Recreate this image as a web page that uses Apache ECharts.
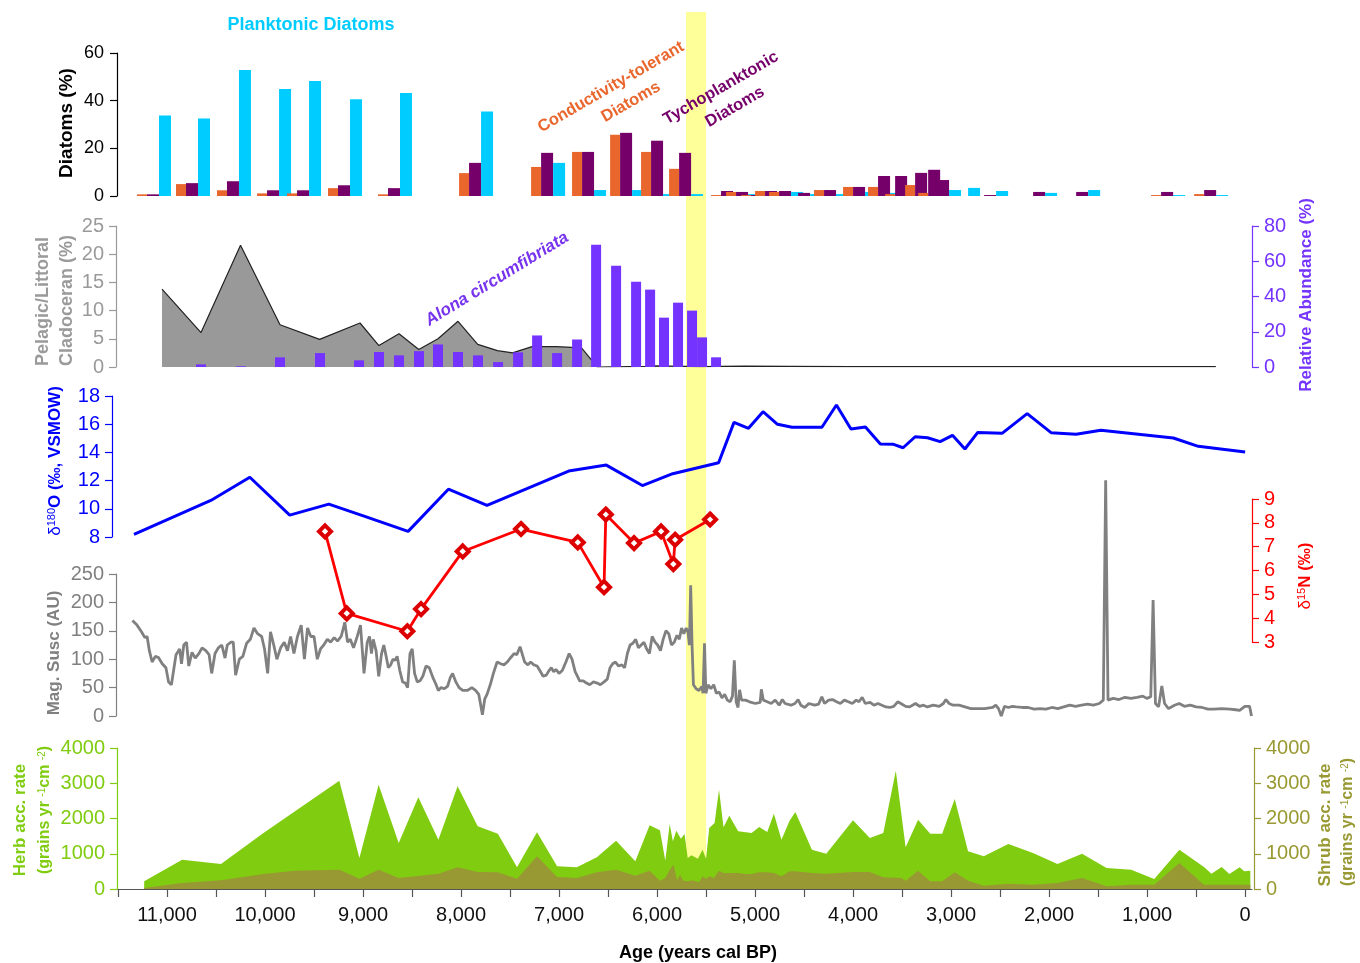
<!DOCTYPE html>
<html><head><meta charset="utf-8">
<script src="https://cdn.jsdelivr.net/npm/echarts@6/dist/echarts.min.js"></script>
<style>html,body{margin:0;padding:0;background:#fff}#c{width:1360px;height:963px}</style>
</head><body><div id="c"></div>
<script>
// ---------------- DATA ----------------
const AGE_TICKS = [0,500,1000,1500,2000,2500,3000,3500,4000,4500,5000,5500,6000,6500,7000,7500,8000,8500,9000,9500,10000,10500,11000,11500];
const AGE_LABELS = [0,1000,2000,3000,4000,5000,6000,7000,8000,9000,10000,11000];
const EVENT_BAND = [5705, 5500];

const DIATOM_AGES = [11143,10745,10327,9918,9612,9194,8684,7857,7122,6704,6316,6000,5714,5286,5133,4980,4837,4694,4500,4235,3939,3684,3510,3306,3173,3082,2888,2602,2102,1663,796,357];
const COND_TOL = [0.7,5.0,2.4,1.1,1.1,3.3,0.7,9.6,12.2,18.5,25.7,18.5,11.4,0.4,1.7,0.4,2.1,1.7,0,2.5,3.8,3.8,0.8,4.6,1.3,0,0,0,0,0,0.4,0.8];
const TYCHO = [0.7,5.4,6.2,2.4,2.4,4.5,3.3,13.9,18.1,18.5,26.5,23.2,18.1,2.1,1.7,0.4,2.1,2.1,1.3,2.5,3.8,8.4,8.4,9.7,11.0,6.7,0,0.4,1.7,1.7,1.7,2.5];
const PLANKTONIC = [33.8,32.5,52.9,44.9,48.3,40.6,43.2,35.5,13.9,2.5,2.5,0.8,0.8,0,0.8,0,0,1.7,0.8,0.8,1.7,1.3,0,0,0,2.5,3.4,2.1,1.3,2.5,0.4,0.4];

const PL_AGES = [11051,10653,10250,9847,9443,9031,8838,8633,8431,8235,8031,7830,7629,7474,7276,7024,6771,6653,6612,6122,6020,5561,5112,4653,4030,2500,299];
const PELAGIC_LITTORAL = [13.8,6.1,21.6,7.5,4.9,7.8,3.8,5.9,3.1,5.0,8.1,4.0,2.9,2.5,3.6,3.6,3.4,0.9,0,0.1,0.2,0.05,0.15,0.1,0.05,0.05,0.05];

const ALONA_AGES = [10653,10245,9847,9439,9041,8837,8633,8429,8235,8031,7827,7622,7418,7224,7020,6816,6622,6418,6214,6071,5929,5786,5643,5541,5398];
const ALONA = [1.5,0.4,5.5,7.9,3.8,8.5,6.6,9.0,12.8,8.5,6.6,2.8,8.3,17.9,7.9,15.6,69.3,57.4,48.4,43.9,28.0,36.5,32.0,16.8,5.5];

const O18_AGES = [11337,10553,10155,9748,9349,8960,8540,8129,7735,6902,6518,6150,5840,5372,5215,5067,4919,4771,4623,4318,4170,4022,3874,3722,3587,3490,3367,3240,3112,2986,2859,2728,2480,2224,1980,1725,1472,732,478,0];
const D18O = [8.19,10.59,12.24,9.55,10.33,9.41,8.4,11.39,10.24,12.68,13.1,11.65,12.49,13.27,16.13,15.71,16.89,15.99,15.78,15.78,17.36,15.66,15.8,14.6,14.57,14.33,15.11,15.04,14.76,15.21,14.24,15.42,15.35,16.75,15.4,15.28,15.57,15.02,14.43,14.03];

const N15_AGES = [9388,9166,8548,8408,7983,7388,6809,6541,6523,6235,5959,5834,5816,5459];
const D15N = [7.64,4.2,3.45,4.38,6.8,7.74,7.18,5.3,8.35,7.15,7.64,6.27,7.29,8.14];

const MS_AGES = [11353,11306,11259,11226,11203,11180,11152,11119,11087,11049,11011,10984,10955,10908,10871,10852,10829,10801,10778,10745,10712,10675,10642,10604,10571,10544,10510,10477,10441,10408,10385,10347,10324,10300,10262,10226,10188,10150,10113,10076,10034,10005,9973,9944,9911,9879,9841,9804,9771,9739,9705,9669,9631,9598,9566,9533,9500,9467,9434,9401,9364,9331,9294,9261,9223,9186,9158,9130,9097,9059,9026,8990,8957,8934,8914,8896,8867,8840,8811,8788,8764,8742,8718,8695,8672,8652,8625,8596,8568,8545,8521,8498,8474,8447,8418,8390,8357,8324,8288,8254,8232,8203,8170,8138,8109,8086,8053,8020,7983,7937,7890,7852,7819,7800,7782,7758,7735,7702,7670,7632,7595,7562,7529,7492,7459,7431,7398,7380,7351,7318,7290,7257,7224,7196,7163,7130,7102,7079,7055,7032,7000,6967,6930,6897,6868,6836,6813,6790,6752,6720,6687,6649,6611,6579,6541,6508,6480,6453,6424,6392,6359,6331,6303,6275,6247,6218,6190,6162,6134,6106,6078,6050,6021,5994,5965,5938,5909,5881,5853,5825,5797,5773,5750,5727,5703,5685,5670,5657,5643,5629,5601,5573,5544,5531,5516,5502,5479,5451,5422,5395,5366,5338,5310,5283,5254,5231,5212,5193,5174,5158,5138,5097,5057,4997,4948,4936,4916,4876,4836,4795,4754,4722,4694,4634,4593,4561,4533,4493,4452,4392,4351,4319,4291,4250,4210,4169,4130,4089,4049,4008,3968,3940,3907,3876,3827,3787,3746,3706,3666,3626,3585,3545,3504,3464,3423,3363,3322,3282,3242,3182,3121,3079,3053,3020,2980,2919,2859,2799,2738,2657,2577,2544,2516,2488,2456,2415,2375,2335,2274,2213,2153,2093,2033,1971,1911,1851,1790,1730,1669,1608,1548,1488,1447,1423,1399,1347,1287,1226,1165,1104,1044,1004,963,939,915,883,850,822,782,721,672,620,560,500,439,379,318,238,157,96,56,3,-45,-65];
const MAG_SUSC = [168,160,148,138,140,115,95,105,103,92,85,60,55,108,118,92,125,130,88,112,102,110,120,115,108,75,110,120,125,102,125,130,130,72,100,105,128,135,155,145,140,118,75,148,125,100,120,130,115,140,110,140,160,100,155,140,140,100,118,125,135,130,138,132,140,165,130,135,120,140,160,75,130,140,110,135,115,70,110,125,105,85,90,100,98,105,80,60,58,50,110,118,75,60,62,70,88,85,68,55,45,50,48,52,68,75,60,50,45,45,50,45,38,20,2,30,38,55,75,95,92,90,95,103,110,108,122,125,95,90,95,90,88,80,70,72,80,85,78,82,75,80,95,110,100,78,70,62,62,58,55,60,58,55,60,65,85,92,95,88,90,85,110,125,128,135,120,125,130,118,110,140,130,125,115,135,150,145,125,130,142,135,155,145,155,148,125,230,125,55,48,45,52,40,128,40,55,48,55,40,42,32,38,28,25,35,98,25,15,46,28,28,25,22,24,47,28,25,22,28,19,29,22,19,22,29,19,15,22,19,21,34,22,28,29,25,22,28,25,22,28,25,33,22,24,19,22,19,16,15,17,25,21,17,16,22,17,19,16,19,17,22,29,22,19,19,16,13,13,13,15,19,13,0,17,15,17,16,15,15,12,13,12,15,13,16,19,17,19,21,19,22,28,415,28,31,29,33,31,33,35,31,34,204,22,16,53,22,13,19,22,17,19,16,15,12,12,13,12,11,10,17,17,0];

const HERB_AGES = [11233,10846,10449,10016,9242,9037,8841,8636,8436,8231,8035,7830,7624,7429,7225,7020,6819,6614,6418,6222,6076,5971,5916,5871,5839,5803,5757,5720,5687,5650,5583,5537,5500,5468,5413,5368,5322,5263,5172,5036,4958,4876,4808,4731,4648,4589,4420,4274,4001,3829,3692,3564,3464,3337,3213,3091,2963,2827,2666,2416,2165,1915,1664,1414,1163,927,671,420,344,239,161,56,10,-53];
const HERB = [217,832,709,1589,3073,879,2960,1305,2600,1399,2912,1778,1570,615,1607,643,615,898,1371,785,1806,1664,804,1844,1352,1655,1428,1560,879,955,860,1116,860,1730,1872,2818,1750,2080,1636,1589,1759,1617,2137,1400,1938,2184,1116,1002,1948,1447,1589,3357,1182,1967,1570,1570,2553,1069,927,1277,1021,709,1002,596,548,284,1116,624,435,624,425,615,501,520];
const SHRUB_AGES = [11233,10846,10449,10016,9698,9242,9037,8841,8636,8231,8035,7830,7624,7429,7225,7020,6819,6614,6418,6222,6076,5971,5916,5871,5832,5796,5764,5733,5687,5650,5605,5568,5537,5500,5468,5422,5368,5322,5172,5104,5036,4958,4876,4808,4731,4648,4589,4420,4274,4001,3829,3692,3509,3464,3337,3213,3091,2963,2827,2666,2416,2165,1915,1664,1414,1163,927,671,420,239,10,-53];
const SHRUB = [28,170,246,425,520,548,293,548,312,435,615,482,473,293,927,340,312,473,548,378,520,236,312,548,690,246,407,236,217,246,217,199,359,293,359,312,520,454,454,425,425,473,473,454,359,501,501,454,435,482,482,331,312,236,520,217,217,473,236,95,151,123,170,312,76,123,123,738,123,123,123,123];

// ---------------- CHART ----------------
const X_MIN = -70, X_MAX = 11500;
const GL = 118, GR = 108;
const NUM_FONT = '"Liberation Sans Narrow", "Liberation Sans", Arial, sans-serif';
const BOLD_FONT = '"Liberation Sans", Arial, sans-serif';

const C_ORANGE = '#E9662C', C_TYCHO = '#76006A', C_CYAN = '#00CCFF';
const C_ALONA = '#7433FF', C_GRAYT = '#9A9A9A', C_BLUE = '#0000FF', C_RED = '#FF0000';
const C_MAG = '#808080', C_HERB = '#80CC10', C_SHRUB = '#999933';

const grids = [
  {left: GL, right: GR, top: 12, height: 878},   // 0 event band
  {left: GL, right: GR, top: 53, height: 143},   // 1 diatoms
  {left: GL, right: GR, top: 226, height: 141},  // 2 cladocera
  {left: GL, right: GR, top: 396, height: 141},  // 3 d18O
  {left: GL, right: GR, top: 499, height: 143},  // 4 d15N
  {left: GL, right: GR, top: 574, height: 142},  // 5 mag susc
  {left: GL, right: GR, top: 748, height: 141}   // 6 pollen
];

function hiddenX(i) {
  return {type: 'value', gridIndex: i, inverse: true, min: X_MIN, max: X_MAX, show: false};
}
const xAxes = [0,1,2,3,4,5].map(hiddenX);
xAxes.push({
  type: 'value', gridIndex: 6, inverse: true, min: X_MIN, max: X_MAX,
  splitLine: {show: false},
  axisLine: {show: true, onZero: false, lineStyle: {color: '#555', width: 1.2}},
  axisTick: {show: true, length: 8, inside: false, lineStyle: {color: '#555', width: 1.2}, customValues: AGE_TICKS},
  axisLabel: {show: true, margin: 16, color: '#111', fontSize: 20, fontFamily: NUM_FONT, customValues: AGE_LABELS,
    formatter: v => Number(v).toLocaleString('en-US')}
});

function yAx(grid, pos, min, max, interval, color, opts) {
  const o = opts || {};
  return {
    type: 'value', gridIndex: grid, position: pos, min, max, interval, offset: o.offset || 0,
    splitLine: {show: false},
    axisLine: {show: true, onZero: false, lineStyle: {color, width: 1.2}},
    axisTick: {show: true, length: 7, lineStyle: {color, width: 1.2}},
    axisLabel: Object.assign({color, fontSize: 20, fontFamily: NUM_FONT, margin: 12, formatter: v => String(v)}, o.label || {})
  };
}
const yAxes = [
  {type: 'value', gridIndex: 0, min: 0, max: 1, show: false},
  yAx(1, 'left', 0, 60, 20, '#000', {offset: 1, label: {fontSize: 18, fontFamily: BOLD_FONT, margin: 13}}),
  yAx(2, 'left', 0, 25, 5, C_GRAYT, {offset: 2}),
  yAx(2, 'right', 0, 80, 20, C_ALONA),
  yAx(3, 'left', 8, 18, 2, C_BLUE, {offset: 6}),
  yAx(4, 'right', 3, 9, 1, C_RED),
  yAx(5, 'left', 0, 250, 50, C_MAG, {offset: 2}),
  yAx(6, 'left', 0, 4000, 1000, C_HERB, {offset: 1}),
  yAx(6, 'right', 0, 4000, 1000, C_SHRUB, {offset: 2})
];

const zip = (a, b) => a.map((v, i) => [v, b[i]]);

const series = [
  { // event band
    type: 'custom', xAxisIndex: 0, yAxisIndex: 0, z: 0, silent: true,
    data: [EVENT_BAND],
    renderItem: (p, api) => {
      const a = api.coord([api.value(0), 1]);
      const b = api.coord([api.value(1), 0]);
      return {type: 'rect', shape: {x: a[0], y: a[1], width: b[0] - a[0], height: b[1] - a[1]}, style: {fill: '#FFFF99'}};
    }
  },
  { // diatoms: grouped bars
    type: 'custom', xAxisIndex: 1, yAxisIndex: 1, z: 3,
    data: DIATOM_AGES.map((a, i) => [a, COND_TOL[i], TYCHO[i], PLANKTONIC[i]]),
    encode: {x: 0, y: 1},
    renderItem: (p, api) => {
      const age = api.value(0);
      const base = api.coord([age, 0]);
      const defs = [[C_ORANGE, -16, 10, 1], [C_TYCHO, -6, 12, 2], [C_CYAN, 6, 12, 3]];
      return {type: 'group', children: defs.map(([c, off, w, k]) => {
        const top = api.coord([age, api.value(k)]);
        return {type: 'rect', shape: {x: base[0] + off, y: top[1], width: w, height: base[1] - top[1]}, style: {fill: c}};
      })};
    }
  },
  { // pelagic / littoral
    type: 'line', xAxisIndex: 2, yAxisIndex: 2, z: 2,
    data: zip(PL_AGES, PELAGIC_LITTORAL), showSymbol: false,
    lineStyle: {color: '#222', width: 1.2}, areaStyle: {color: '#999999', opacity: 1}
  },
  { // Alona bars
    type: 'custom', xAxisIndex: 2, yAxisIndex: 3, z: 3,
    data: zip(ALONA_AGES, ALONA), encode: {x: 0, y: 1},
    renderItem: (p, api) => {
      const base = api.coord([api.value(0), 0]);
      const top = api.coord([api.value(0), api.value(1)]);
      return {type: 'rect', shape: {x: base[0] - 5, y: top[1], width: 10, height: base[1] - top[1]}, style: {fill: C_ALONA}};
    }
  },
  { // d18O
    type: 'line', xAxisIndex: 3, yAxisIndex: 4, z: 3,
    data: zip(O18_AGES, D18O), showSymbol: false,
    lineStyle: {color: C_BLUE, width: 3}
  },
  { // mag susc
    type: 'line', xAxisIndex: 5, yAxisIndex: 6, z: 3, clip: false,
    data: zip(MS_AGES, MAG_SUSC), showSymbol: false,
    lineStyle: {color: C_MAG, width: 2.8}
  },
  { // d15N
    type: 'line', xAxisIndex: 4, yAxisIndex: 5, z: 4, clip: false,
    data: zip(N15_AGES, D15N), symbol: 'diamond', symbolSize: 12, showSymbol: true,
    lineStyle: {color: C_RED, width: 2.8},
    itemStyle: {color: '#ffffff', borderColor: '#DD0000', borderWidth: 4}
  },
  { // herb
    type: 'line', xAxisIndex: 6, yAxisIndex: 7, z: 2,
    data: zip(HERB_AGES, HERB), showSymbol: false,
    lineStyle: {width: 0}, areaStyle: {color: C_HERB, opacity: 1}
  },
  { // shrub
    type: 'line', xAxisIndex: 6, yAxisIndex: 8, z: 3,
    data: zip(SHRUB_AGES, SHRUB), showSymbol: false,
    lineStyle: {width: 0}, areaStyle: {color: C_SHRUB, opacity: 1}
  }
];

function T(text, x, y, rot, st) {
  return {type: 'text', x, y, rotation: rot * Math.PI / 180, z: 100,
    style: Object.assign({text, align: 'center', verticalAlign: 'middle', fontFamily: BOLD_FONT,
      fontWeight: 'bold', fontSize: 16, fill: '#000'}, st || {})};
}
function R(text, x, y, rich) {
  return {type: 'text', x, y, rotation: Math.PI / 2, z: 100,
    style: {text, align: 'center', verticalAlign: 'middle', rich}};
}
const supRich = (col, size) => ({
  d: {fontFamily: BOLD_FONT, fontWeight: 'normal', fontSize: size, fill: col},
  n: {fontFamily: BOLD_FONT, fontWeight: 'bold', fontSize: size, fill: col},
  s: {fontFamily: BOLD_FONT, fontWeight: 'normal', fontSize: Math.round(size * 0.62), fill: col, verticalAlign: 'top', padding: [0, 0, 6, 0]}
});

const graphics = [
  T('Planktonic Diatoms', 311, 25, 0, {fill: C_CYAN, fontSize: 18}),
  T('Conductivity-tolerant', 611, 87, 30, {fill: C_ORANGE, fontSize: 16.5}),
  T('Diatoms', 631, 102, 30, {fill: C_ORANGE, fontSize: 16.5}),
  T('Tychoplanktonic', 721, 88, 30, {fill: C_TYCHO, fontSize: 16.5}),
  T('Diatoms', 735, 107, 30, {fill: C_TYCHO, fontSize: 16.5}),
  T('Alona circumfibriata', 497, 279, 31.5, {fill: '#7733EE', fontStyle: 'italic', fontSize: 17}),
  T('Diatoms (%)', 67, 123, 90, {fontSize: 19}),
  T('Pelagic/Littoral', 43, 366, 90, {fill: C_GRAYT, fontSize: 18, align: 'left'}),
  T('Cladoceran (%)', 67, 366, 90, {fill: C_GRAYT, fontSize: 18, align: 'left'}),
  R('{d|δ}{s|180}{n|O (‰, VSMOW)}', 55, 461, supRich(C_BLUE, 17)),
  T('Mag. Susc (AU)', 54, 653, 90, {fill: C_MAG, fontSize: 17}),
  T('Herb acc. rate', 20, 820, 90, {fill: C_HERB, fontSize: 17}),
  R('{n|(grains yr }{s|-1}{n|cm }{s|-2}{n|)}', 45, 810, supRich(C_HERB, 16)),
  T('Relative Abundance (%)', 1306, 295, 90, {fill: C_ALONA, fontSize: 17}),
  R('{d|δ}{s|15}{n|N (‰)}', 1305, 576, supRich(C_RED, 17)),
  T('Shrub acc. rate', 1325, 825, 90, {fill: C_SHRUB, fontSize: 17}),
  R('{n|(grains yr }{s|-1}{n|cm }{s|-2}{n|)}', 1348, 822, supRich(C_SHRUB, 16)),
  T('Age (years cal BP)', 698, 953, 0, {fontFamily: NUM_FONT, fontSize: 18})
];

const chart = echarts.init(document.getElementById('c'), null, {renderer: 'canvas'});
chart.setOption({
  animation: false,
  backgroundColor: '#fff',
  grid: grids,
  xAxis: xAxes,
  yAxis: yAxes,
  series,
  graphic: {elements: graphics}
});
</script>
</body></html>
